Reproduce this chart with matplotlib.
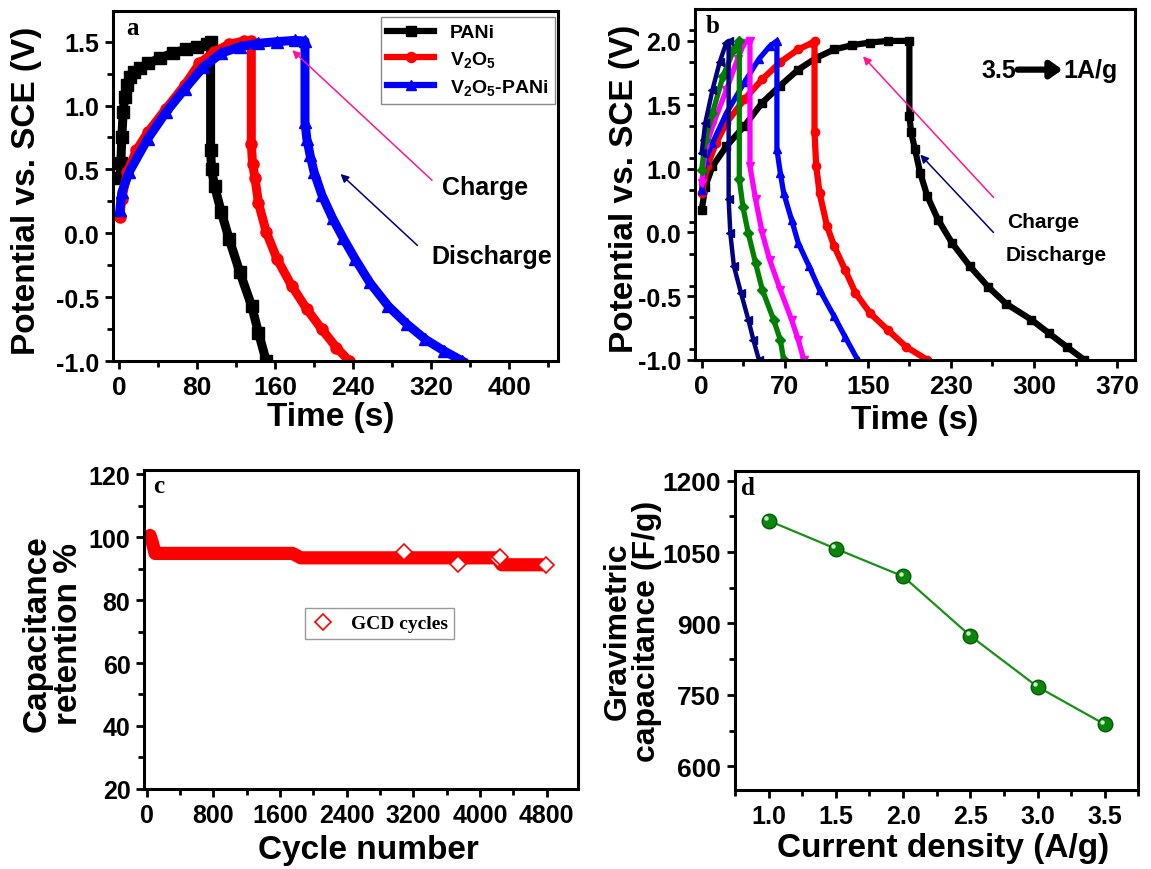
import numpy as np
import matplotlib
matplotlib.use("Agg")
import matplotlib.pyplot as plt
from matplotlib.ticker import MultipleLocator, FixedLocator, FixedFormatter
from matplotlib import transforms

plt.rcParams['font.family'] = ['Liberation Sans', 'DejaVu Sans']
plt.rcParams['font.weight'] = 'bold'
plt.rcParams['mathtext.default'] = 'regular'
plt.rcParams['axes.unicode_minus'] = False

# ---- panel a: GCD of the three electrodes ----
pani_t = [1, 2, 3, 4.4, 6, 7.9, 11, 15, 21.5, 30, 42, 55, 69, 80, 90, 94,
          94, 95, 98, 105, 113, 124, 136, 143, 151]
pani_v = [0.43, 0.55, 0.75, 0.95, 1.07, 1.16, 1.22, 1.26, 1.29, 1.33, 1.37, 1.41, 1.44, 1.46, 1.48, 1.50,
          0.65, 0.50, 0.37, 0.165, -0.045, -0.306, -0.568, -0.777, -1.0]
v2o5_t = [1, 3, 8.7, 18, 29.6, 48.5, 67.5, 82.6, 97.8, 113, 128, 135.7,
          135.7, 137, 139.5, 143, 151, 162, 177, 192.6, 207.8, 223, 236]
v2o5_v = [0.13, 0.27, 0.48, 0.65, 0.79, 0.976, 1.16, 1.33, 1.42, 1.48, 1.505, 1.505,
          0.70, 0.545, 0.43, 0.24, 0.01, -0.2, -0.41, -0.594, -0.75, -0.895, -1.0]
vp_t = [1, 3, 10.6, 29.6, 48.5, 67.5, 86.4, 105, 124, 143, 162, 180, 190.7,
        190.7, 192.6, 196, 200, 208, 219, 230, 242, 257, 276, 295, 314, 333, 352]
vp_v = [0.18, 0.32, 0.48, 0.74, 0.95, 1.13, 1.30, 1.41, 1.46, 1.487, 1.50, 1.51, 1.505,
        0.87, 0.74, 0.61, 0.48, 0.30, 0.117, -0.04, -0.20, -0.385, -0.57, -0.71, -0.83, -0.92, -1.0]

# ---- panel b: V2O5-PANi at 3.5 ... 1 A/g (axis units as drawn in the figure) ----
b_xtick_pos = [0, 74, 148, 222, 296, 370]
b_xtick_lab = ['0', '70', '150', '230', '300', '370']
b_ytick_pos = [2.0, 1.4, 0.8, 0.2, -0.4, -1.0]
b_ytick_lab = ['2.0', '1.5', '1.0', '0.0', '-0.5', '-1.0']

g10_t = [0, 3.2, 9.6, 22, 38, 54, 70, 86, 102, 118, 134, 150, 166, 185,
         185, 186.6, 190, 194.6, 201, 210.5, 223, 239, 255, 271, 293.5, 309.5, 325, 341]
g10_v = [0.41, 0.63, 0.82, 1.01, 1.20, 1.42, 1.58, 1.73, 1.84, 1.92, 1.96, 1.985, 2.0, 2.0,
         1.29, 1.14, 0.98, 0.76, 0.54, 0.32, 0.10, -0.12, -0.31, -0.47, -0.62, -0.75, -0.875, -1.0]
g15_t = [0, 4.8, 12.8, 22, 38, 54, 70, 86, 99, 100.5,
         100.5, 102, 105, 111.6, 118, 127.6, 137, 150, 166, 182, 201]
g15_v = [0.57, 0.82, 1.04, 1.23, 1.45, 1.64, 1.80, 1.92, 1.985, 2.0,
         1.14, 0.82, 0.57, 0.26, 0.07, -0.15, -0.37, -0.56, -0.72, -0.875, -1.0]
g20_t = [0, 3.2, 9.6, 22, 38, 51, 60.6, 67,
         67, 70, 73, 80, 86, 95.7, 105, 118, 127.6, 139]
g20_v = [0.60, 0.88, 1.04, 1.32, 1.61, 1.83, 1.95, 2.0,
         0.98, 0.76, 0.57, 0.32, 0.10, -0.12, -0.34, -0.59, -0.78, -1.0]
g25_t = [0, 3.2, 9.6, 22, 32, 38, 43,
         43, 48, 54, 60.6, 70, 80, 86, 91]
g25_v = [0.66, 0.98, 1.20, 1.54, 1.83, 1.985, 2.0,
         0.82, 0.51, 0.19, -0.06, -0.34, -0.62, -0.81, -1.0]
g30_t = [0, 3.2, 9.6, 19, 28.7, 33.5,
         33.5, 36.7, 41.5, 48, 54, 64, 70, 73]
g30_v = [0.79, 1.07, 1.32, 1.67, 1.92, 2.0,
         0.70, 0.44, 0.19, -0.09, -0.34, -0.62, -0.81, -1.0]
g35_t = [0, 3.2, 9.6, 16, 22, 24,
         24, 25.5, 28.7, 35, 41.5, 46, 51]
g35_v = [0.95, 1.23, 1.54, 1.80, 1.985, 2.0,
         0.51, 0.19, -0.12, -0.37, -0.62, -0.81, -1.0]

# ---- panel c: cycling stability ----
cyc_band = [0, 40, 70, 100, 1750, 1850, 4200, 4260, 4760]
ret_band = [99.0, 100.5, 98.0, 94.8, 94.8, 93.4, 93.4, 91.2, 91.2]
cyc_pts = [3087, 3741, 4214, 4237, 4790]
ret_pts = [95.2, 91.3, 92.9, 93.7, 91.1]

# ---- panel d: rate capability ----
current = [1.0, 1.5, 2.0, 2.5, 3.0, 3.5]
capac = [1116, 1057, 999, 874, 767, 688]

fig = plt.figure(figsize=(11.51, 8.70), dpi=100)
ax_a = fig.add_axes([0.0982, 0.5839, 0.3866, 0.4023])
ax_b = fig.add_axes([0.6038, 0.5851, 0.3823, 0.4034])
ax_c = fig.add_axes([0.1254, 0.0920, 0.3765, 0.3670])
ax_d = fig.add_axes([0.6386, 0.0908, 0.3504, 0.3670])


def style(ax, xsize=18, ysize=18):
    for s in ax.spines.values():
        s.set_linewidth(2.2)
    ax.tick_params(which='both', direction='out', top=False, right=False, width=2)
    ax.tick_params(which='major', length=6, pad=4)
    ax.tick_params(which='minor', length=4)
    ax.tick_params(axis='x', labelsize=xsize)
    ax.tick_params(axis='y', labelsize=ysize)


def panel_letter(ax, letter, x, y):
    ax.text(x, y, letter, transform=ax.transAxes, ha='center', va='center',
            fontsize=18, fontweight='bold', family=['Liberation Serif'])


# panel a
ax_a.plot(pani_t, pani_v, '-s', color='black', lw=6.5, ms=8, label='PANi')
ax_a.plot(v2o5_t, v2o5_v, '-o', color='#ff0000', lw=6.5, ms=8, label='V$_2$O$_5$')
ax_a.plot(vp_t, vp_v, '-^', color='#0000ff', lw=6.5, ms=8, label='V$_2$O$_5$-PANi')
ax_a.set_xlim(-6, 450)
ax_a.set_ylim(-1.0, 1.74)
ax_a.xaxis.set_major_locator(MultipleLocator(80))
ax_a.xaxis.set_minor_locator(MultipleLocator(40))
ax_a.yaxis.set_major_locator(MultipleLocator(0.5))
ax_a.yaxis.set_minor_locator(MultipleLocator(0.25))
style(ax_a, 19, 18)
ax_a.set_xlabel('Time (s)', fontsize=24, fontweight='bold')
ax_a.set_ylabel('Potential vs. SCE (V)', fontsize=24, fontweight='bold')
ax_a.xaxis.set_label_coords(0.49, -0.115)
ax_a.yaxis.set_label_coords(-0.16, 0.49)
leg = ax_a.legend(loc='upper right', bbox_to_anchor=(0.993, 0.983), borderaxespad=0,
                  fontsize=14, handlelength=2.4, numpoints=1, fancybox=False,
                  framealpha=1, edgecolor='#888888', labelspacing=0.4, markerscale=0.9,
                  borderpad=0.35)
for line in leg.get_lines():
    line.set_linewidth(4.5)
panel_letter(ax_a, 'a', 0.043, 0.954)
ax_a.annotate('', xy=(175.5, 1.448), xytext=(323, 0.40),
              arrowprops=dict(arrowstyle='-|>', color='#ff1493', lw=1.1,
                              mutation_scale=12))
ax_a.annotate('', xy=(225, 0.479), xytext=(308, -0.11),
              arrowprops=dict(arrowstyle='-|>', color='#000080', lw=1.1,
                              mutation_scale=12))
ax_a.text(375, 0.36, 'Charge', fontsize=18, fontweight='bold', ha='center', va='center')
ax_a.text(382, -0.175, 'Discharge', fontsize=18, fontweight='bold', ha='center', va='center')

# panel b
ax_b.plot(g10_t, g10_v, '-s', color='black', lw=4.5, ms=6)
ax_b.plot(g15_t, g15_v, '-o', color='#ff0000', lw=4.5, ms=6)
ax_b.plot(g20_t, g20_v, '-^', color='#0000ff', lw=3.8, ms=6)
ax_b.plot(g25_t, g25_v, '-v', color='#ff00ff', lw=3.8, ms=6)
ax_b.plot(g30_t, g30_v, '-D', color='#008000', lw=3.8, ms=5)
ax_b.plot(g35_t, g35_v, '-<', color='#000080', lw=3.2, ms=5.5)
ax_b.set_xlim(-6, 386)
ax_b.set_ylim(-1.0, 2.30)
ax_b.xaxis.set_major_locator(FixedLocator(b_xtick_pos))
ax_b.xaxis.set_major_formatter(FixedFormatter(b_xtick_lab))
ax_b.xaxis.set_minor_locator(MultipleLocator(37))
ax_b.yaxis.set_major_locator(FixedLocator(b_ytick_pos))
ax_b.yaxis.set_major_formatter(FixedFormatter(b_ytick_lab))
ax_b.yaxis.set_minor_locator(MultipleLocator(0.3))
style(ax_b, 19, 18)
ax_b.set_xlabel('Time (s)', fontsize=24, fontweight='bold')
ax_b.set_ylabel('Potential vs. SCE (V)', fontsize=24, fontweight='bold')
ax_b.xaxis.set_label_coords(0.50, -0.125)
ax_b.yaxis.set_label_coords(-0.125, 0.49)
panel_letter(ax_b, 'b', 0.041, 0.952)
ax_b.annotate('', xy=(142, 1.874), xytext=(261.6, 0.51),
              arrowprops=dict(arrowstyle='-|>', color='#ff1493', lw=1.1,
                              mutation_scale=12))
ax_b.annotate('', xy=(193, 0.95), xytext=(261.6, 0.18),
              arrowprops=dict(arrowstyle='-|>', color='#000080', lw=1.1,
                              mutation_scale=12))
ax_b.text(304.6, 0.30, 'Charge', fontsize=15, fontweight='bold', ha='center', va='center')
ax_b.text(315.8, -0.01, 'Discharge', fontsize=15, fontweight='bold', ha='center', va='center')
ax_b.text(265, 1.73, '3.5', fontsize=18, fontweight='bold', ha='center', va='center')
ax_b.text(346, 1.73, '1A/g', fontsize=18, fontweight='bold', ha='center', va='center')
ax_b.annotate('', xy=(324, 1.73), xytext=(279, 1.73),
              arrowprops=dict(arrowstyle='-|>,head_length=0.5,head_width=0.35',
                              color='black', lw=4.5, mutation_scale=14))

# panel c
ax_c.plot(cyc_band, ret_band, '-', color='#ff0000', lw=9.5, solid_capstyle='butt')
ax_c.plot(cyc_pts, ret_pts, 'D', color='#ff0000', mfc='white', mew=1.2, ms=8,
          linestyle='none')
h_c, = ax_c.plot([], [], 'D', color='#ff0000', mfc='white', mew=1.2, ms=8,
                 linestyle='none', label='GCD cycles')
ax_c.set_xlim(-29, 5172)
ax_c.set_ylim(20, 121.4)
ax_c.xaxis.set_major_locator(MultipleLocator(800))
ax_c.xaxis.set_minor_locator(MultipleLocator(400))
ax_c.yaxis.set_major_locator(MultipleLocator(20))
ax_c.yaxis.set_minor_locator(MultipleLocator(10))
style(ax_c, 18, 18)
ax_c.set_xlabel('Cycle number', fontsize=24, fontweight='bold')
ax_c.set_ylabel('Capacitance\nretention %', fontsize=24, fontweight='bold', linespacing=1.0)
ax_c.xaxis.set_label_coords(0.517, -0.14)
ax_c.yaxis.set_label_coords(-0.14, 0.49)
ax_c.legend(handles=[h_c], loc='center', bbox_to_anchor=(0.543, 0.518),
            prop={'family': 'Liberation Serif', 'weight': 'bold', 'size': 14},
            fancybox=False, edgecolor='#999999', framealpha=1, handlelength=1.2,
            borderpad=0.35)
panel_letter(ax_c, 'c', 0.032, 0.949)

# panel d
ax_d.plot(current, capac, '-', color='#189018', lw=1.6, zorder=2)
ax_d.plot(current, capac, 'o', color='#0b850b', mec='#055a05', ms=10.5, zorder=3)
shine = transforms.offset_copy(ax_d.transData, fig=fig, x=-2.5, y=2.5, units='dots')
ax_d.plot(current, capac, 'o', color='#cfeecf', mec='none', ms=3.2, transform=shine,
          zorder=4)
ax_d.set_xlim(0.75, 3.75)
ax_d.set_ylim(550, 1221)
ax_d.xaxis.set_major_locator(MultipleLocator(0.5))
ax_d.xaxis.set_minor_locator(MultipleLocator(0.25))
ax_d.yaxis.set_major_locator(MultipleLocator(150))
ax_d.yaxis.set_minor_locator(MultipleLocator(75))
style(ax_d, 18, 19)
ax_d.set_xlabel('Current density (A/g)', fontsize=24, fontweight='bold')
ax_d.set_ylabel('Gravimetric\ncapacitance (F/g)', fontsize=23, fontweight='bold',
                linespacing=1.0)
ax_d.xaxis.set_label_coords(0.516, -0.13)
ax_d.yaxis.set_label_coords(-0.18, 0.50)
panel_letter(ax_d, 'd', 0.032, 0.946)

fig.savefig('out.png', dpi=100)
